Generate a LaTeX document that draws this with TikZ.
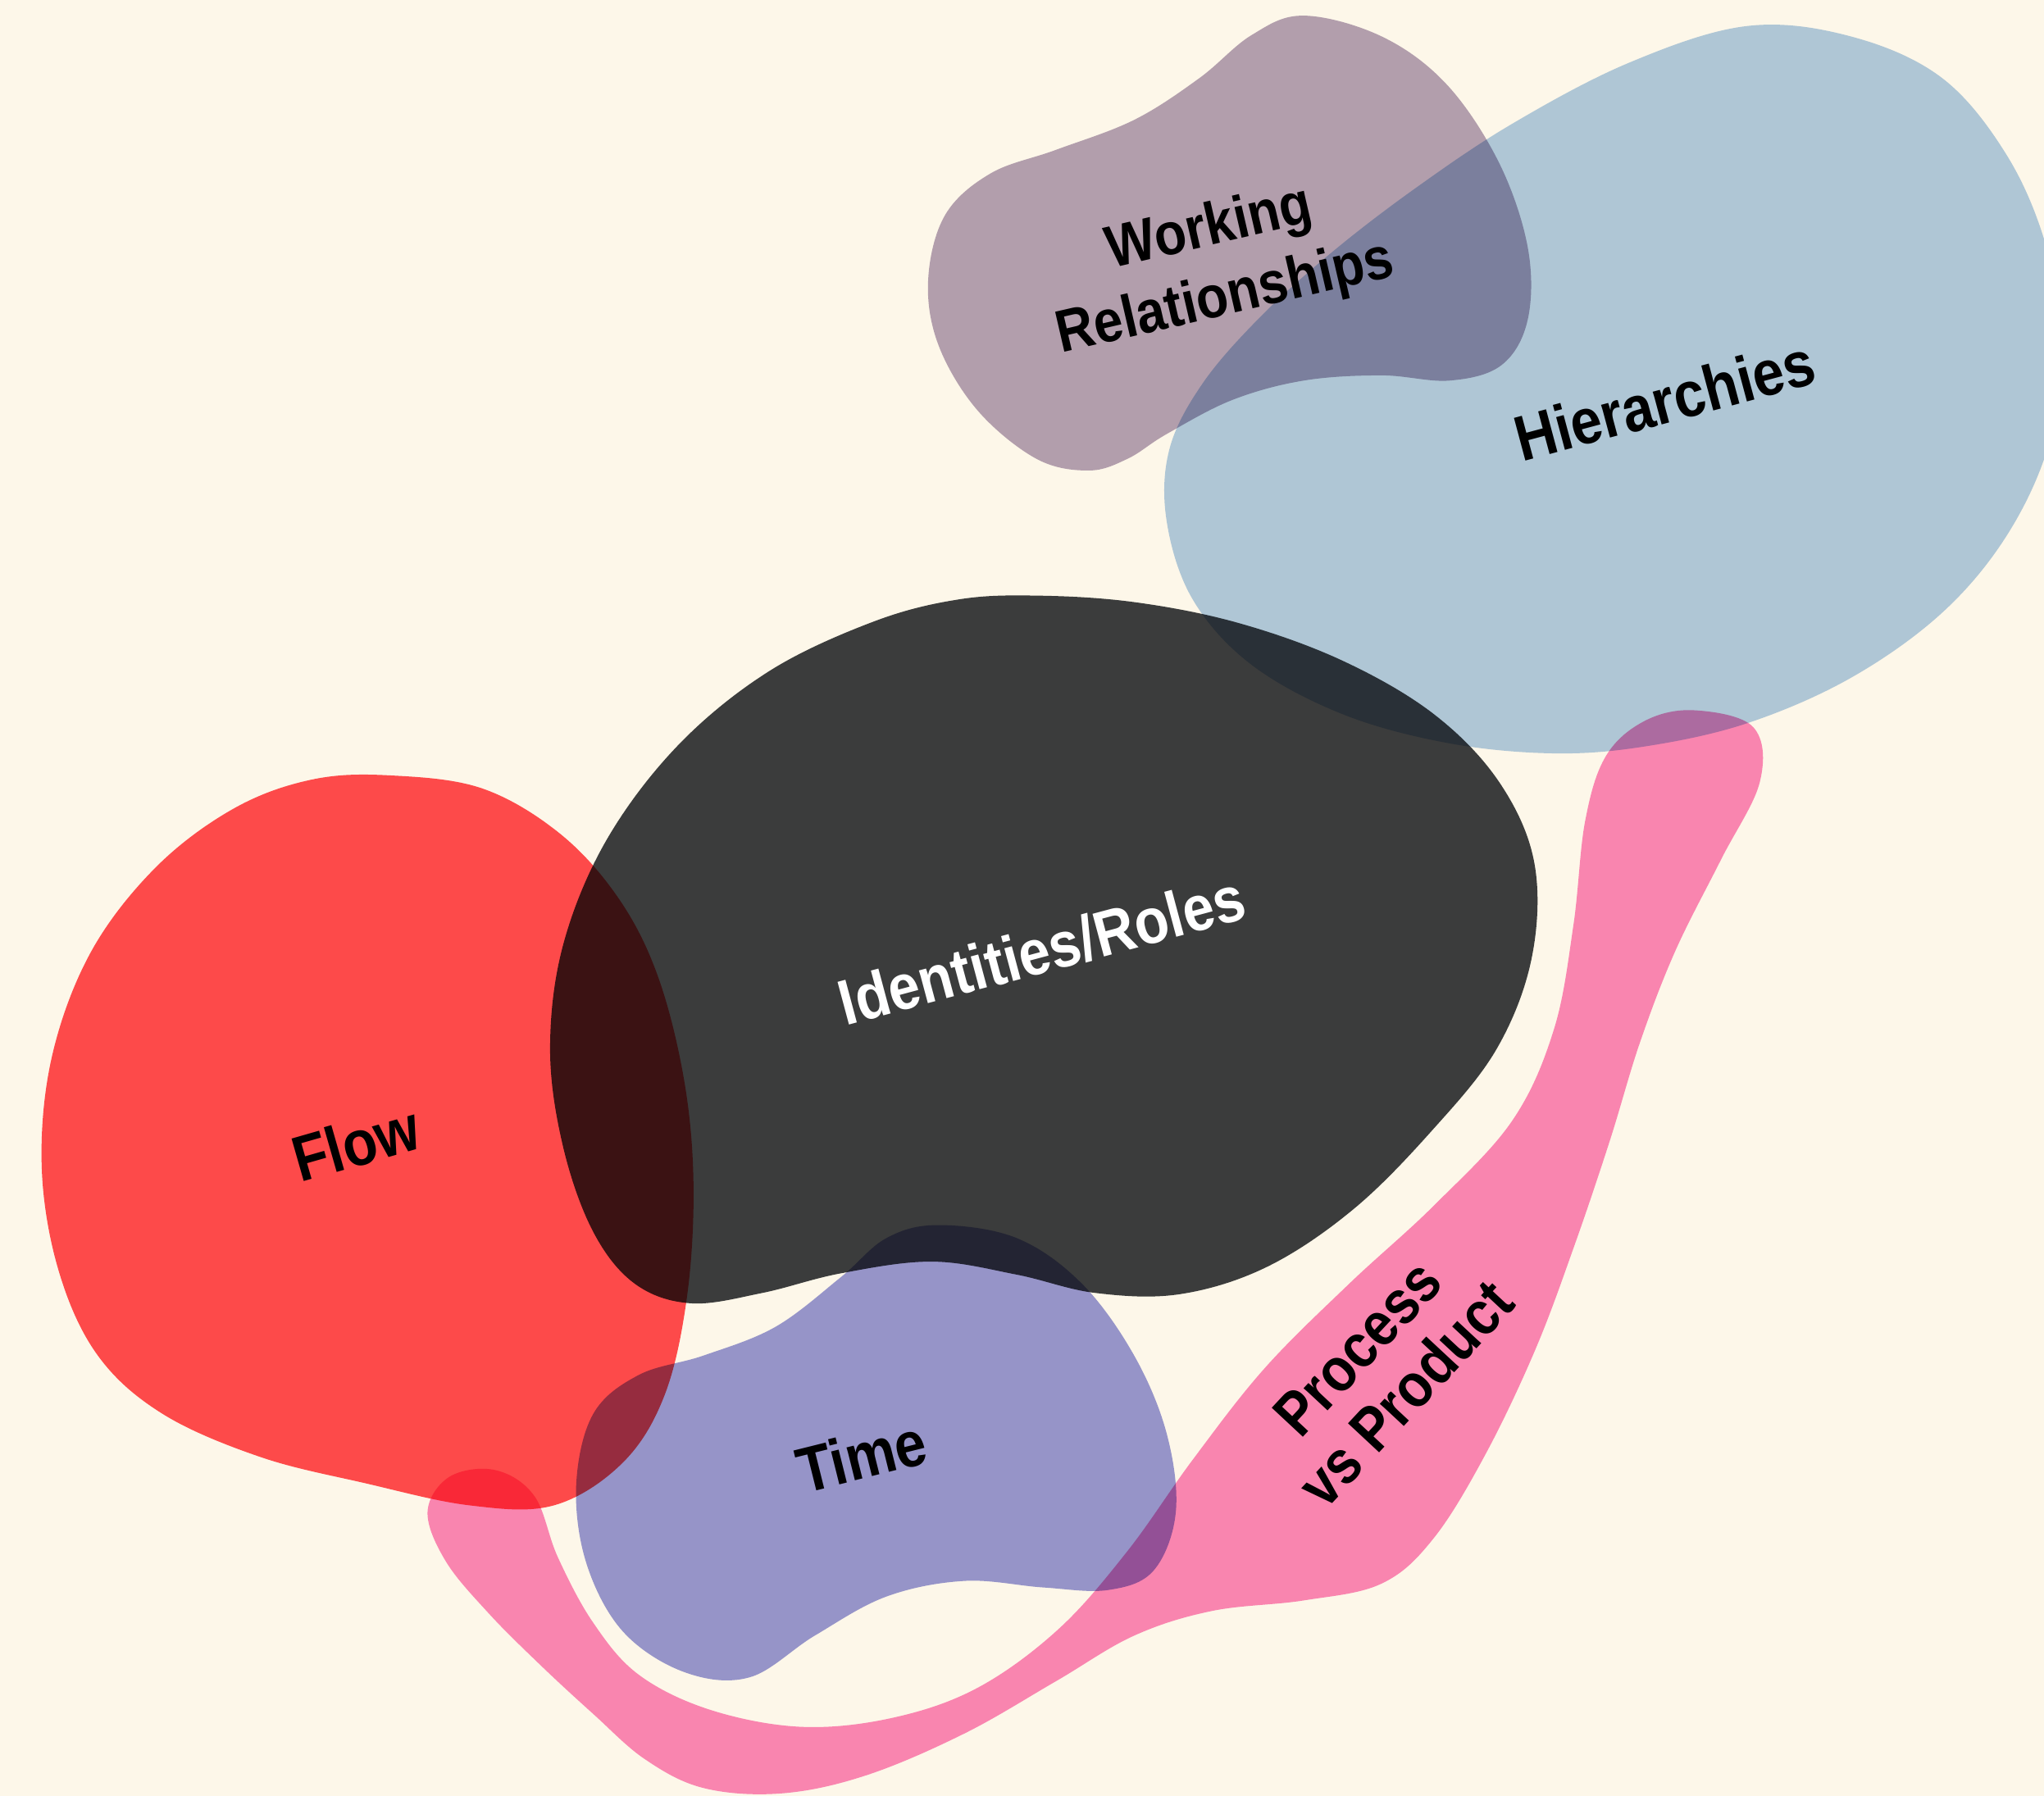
\documentclass[tikz,border=0pt]{standalone}
\usepackage{fontspec}
\setmainfont{Liberation Sans}[FakeStretch=0.88]
\begin{document}
\begin{tikzpicture}[x=0.01cm,y=-0.01cm,
  blob/.style={smooth cycle, tension=0.6},
  blobtext/.style={font=\bfseries\fontsize{14}{16}\selectfont, text=black, align=center, inner sep=0pt}]
\definecolor{bg}{HTML}{FDF7E9}
\definecolor{hierc}{RGB}{177,205,234}
\definecolor{workc}{RGB}{180,164,189}
\definecolor{identc}{RGB}{60,62,66}
\definecolor{flowc}{RGB}{255,77,82}
\definecolor{timec}{RGB}{152,153,219}
\definecolor{procc}{RGB}{251,138,192}
\fill[bg] (0,0) rectangle (1568,1378);
\clip (0,0) rectangle (1568,1378);
\begin{scope}[blend mode=multiply]
% Hierarchies
\fill[hierc] plot[blob] coordinates {(1340,20) (1420,28) (1490,60) (1540,120) (1570,190) (1582,265) (1572,340) (1540,410) (1490,470) (1420,520) (1340,555) (1260,573) (1190,578) (1110,570) (1030,548) (960,510) (915,460) (895,400) (897,345) (922,295) (965,245) (1020,195) (1085,145) (1160,95) (1250,48)};
% Working Relationships
\fill[workc] plot[blob] coordinates {(1000,12) (1060,28) (1110,65) (1150,125) (1172,190) (1172,245) (1152,280) (1112,292) (1060,288) (1000,292) (945,307) (895,333) (865,352) (835,361) (795,352) (750,315) (720,265) (712,215) (725,165) (760,133) (810,115) (870,92) (920,60) (960,27)};
% Identities/Roles
\fill[identc] plot[blob] coordinates {(795,457) (870,462) (950,478) (1030,507) (1100,548) (1150,600) (1177,662) (1175,735) (1148,805) (1098,868) (1038,928) (972,972) (905,993) (840,992) (780,978) (715,968) (645,977) (585,992) (530,1000) (487,985) (455,945) (432,880) (422,805) (432,725) (465,645) (520,572) (590,515) (670,477) (735,460)};
% Flow
\fill[flowc] plot[blob] coordinates {(300,595) (370,605) (430,640) (475,690) (505,750) (525,830) (532,910) (527,995) (510,1070) (478,1122) (425,1155) (360,1155) (280,1138) (200,1118) (125,1085) (75,1040) (45,975) (32,895) (40,810) (70,730) (120,665) (180,620) (240,598)};
% Time
\fill[timec] plot[blob] coordinates {(720,940) (780,950) (830,985) (870,1040) (895,1100) (902,1160) (885,1205) (850,1220) (800,1218) (740,1213) (680,1225) (625,1255) (575,1287) (525,1283) (478,1252) (450,1200) (442,1140) (455,1085) (490,1055) (540,1040) (595,1018) (645,980) (680,950)};
% Process vs Product
\fill[procc] plot[blob] coordinates {(1300,545) (1345,558) (1350,600) (1320,660) (1285,730) (1258,800) (1235,875) (1208,955) (1178,1035) (1140,1115) (1100,1180) (1060,1215) (1000,1228) (930,1236) (870,1255) (810,1290) (740,1330) (665,1362) (600,1376) (540,1372) (495,1350) (455,1315) (415,1278) (375,1238) (342,1198) (328,1160) (345,1133) (380,1128) (410,1148) (428,1195) (455,1245) (490,1285) (545,1312) (615,1325) (685,1318) (750,1295) (812,1250) (865,1190) (915,1120) (970,1050) (1035,985) (1100,925) (1160,860) (1192,790) (1207,710) (1216,630) (1232,580) (1262,553)};
\end{scope}
\node[blobtext, font=\bfseries\fontsize{13}{15.5}\selectfont, rotate=13] (work) at (934,203) {Working\\Relationships};
\node[blobtext, rotate=15] (hier) at (1277,307) {Hierarchies};
\node[blobtext, text=white, rotate=15] (ident) at (799,729) {Identities/Roles};
\node[blobtext, rotate=16] (flow) at (273,877) {Flow};
\node[blobtext, rotate=14] (time) at (661,1117) {Time};
\node[blobtext, font=\bfseries\fontsize{13.5}{14.5}\selectfont, rotate=47] (proc) at (1060,1052) {Process\\vs Product};
\end{tikzpicture}
\end{document}
